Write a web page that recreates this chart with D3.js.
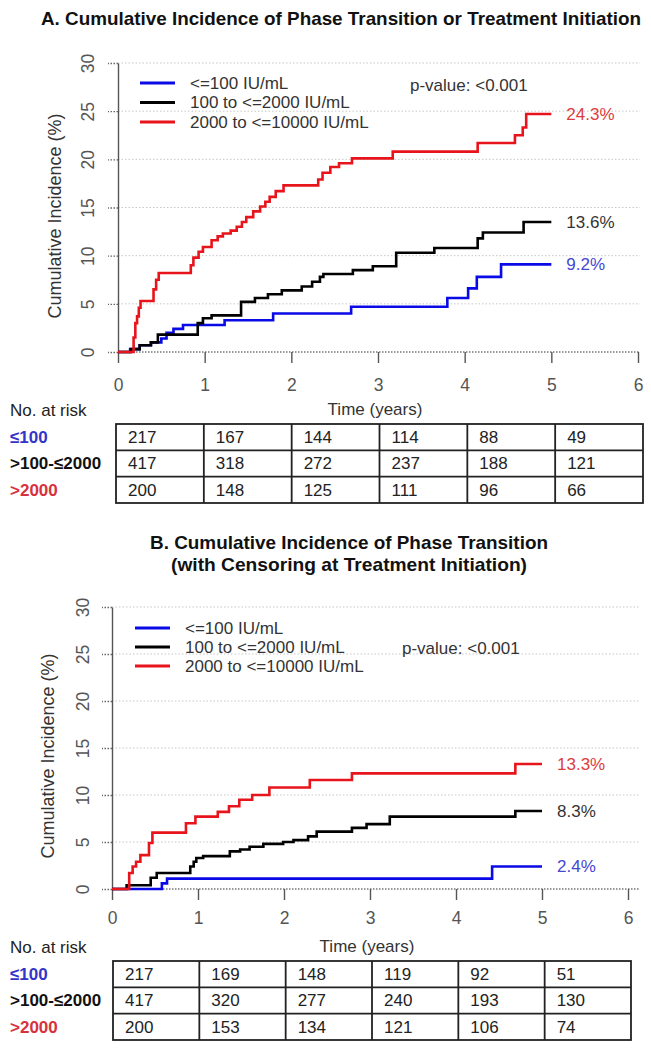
<!DOCTYPE html>
<html><head><meta charset="utf-8">
<script src="https://cdn.jsdelivr.net/npm/d3@7"></script>
<style>body{margin:0;background:#fff}svg{display:block;font-family:"Liberation Sans",Arial,Helvetica,sans-serif}</style>
</head><body><svg id="c" width="651" height="1050"></svg>
<script>
// ---------------- data ----------------
const xTicks = [0, 1, 2, 3, 4, 5, 6];
const yTicks = [0, 5, 10, 15, 20, 25, 30];
const groupLabels = ["<=100 IU/mL", "100 to <=2000 IU/mL", "2000 to <=10000 IU/mL"];
const riskRowLabels = ["≤100", ">100-≤2000", ">2000"];
const riskTimes = [0, 1, 2, 3, 4, 5];
const pValueText = "p-value: <0.001";

// Panel A
const titleA = ["A. Cumulative Incidence of Phase Transition or Treatment Initiation"];
const stepsA_low = [[0,0],[0.14,0.3],[0.25,0.7],[0.38,1.0],[0.50,1.4],[0.56,2.0],[0.64,2.4],[0.75,2.8],[1.23,3.3],[1.79,4.0],[2.69,4.7],[3.80,5.6],[4.04,6.6],[4.14,7.8],[4.42,9.1],[5,9.1]];
const stepsA_mid = [[0,0],[0.15,0.3],[0.25,0.7],[0.38,1.0],[0.46,1.8],[0.92,3.0],[0.98,3.5],[1.08,3.8],[1.42,5.2],[1.58,5.6],[1.73,6.0],[1.89,6.4],[2.12,6.8],[2.24,7.3],[2.33,7.8],[2.37,8.1],[2.71,8.5],[2.94,8.9],[3.21,10.3],[3.65,10.8],[4.15,11.8],[4.21,12.4],[4.68,13.5],[5,13.5]];
const stepsA_high = [[0,0],[0.18,1.5],[0.20,3.0],[0.22,3.7],[0.24,4.6],[0.26,5.3],[0.41,6.5],[0.44,7.5],[0.47,8.2],[0.84,9.0],[0.87,9.8],[0.93,10.4],[0.98,10.9],[1.08,11.6],[1.15,12.0],[1.21,12.3],[1.30,12.6],[1.37,13.0],[1.43,13.5],[1.48,14.0],[1.56,14.6],[1.64,15.1],[1.70,15.6],[1.75,16.1],[1.82,16.7],[1.91,17.3],[2.31,17.9],[2.36,18.6],[2.45,19.2],[2.55,19.6],[2.70,20.1],[3.17,20.8],[4.15,21.7],[4.58,22.5],[4.67,23.3],[4.71,24.7],[5,24.7]];
const endLabelsA = ["9.2%", "13.6%", "24.3%"];
const riskA_low = [217, 167, 144, 114, 88, 49];
const riskA_mid = [417, 318, 272, 237, 188, 121];
const riskA_high = [200, 148, 125, 111, 96, 66];

// Panel B
const titleB = ["B. Cumulative Incidence of Phase Transition", "(with Censoring at Treatment Initiation)"];
const stepsB_low = [[0,0],[0.58,0.6],[0.64,1.1],[4.42,2.4],[5,2.4]];
const stepsB_mid = [[0,0],[0.17,0.4],[0.45,1.2],[0.52,1.7],[0.91,2.4],[0.95,2.9],[0.98,3.3],[1.06,3.5],[1.37,4.0],[1.49,4.2],[1.60,4.5],[1.76,4.8],[1.99,5.0],[2.11,5.2],[2.28,5.6],[2.38,6.1],[2.79,6.5],[2.96,6.9],[3.23,7.7],[4.69,8.3],[5,8.3]];
const stepsB_high = [[0,0],[0.20,1.7],[0.24,2.4],[0.28,2.9],[0.33,3.6],[0.43,4.9],[0.47,6.0],[0.86,7.0],[0.97,7.7],[1.23,8.2],[1.36,8.8],[1.48,9.5],[1.63,10.0],[1.83,10.8],[2.30,11.6],[2.79,12.3],[4.69,13.3],[5,13.3]];
const endLabelsB = ["2.4%", "8.3%", "13.3%"];
const riskB_low = [217, 169, 148, 119, 92, 51];
const riskB_mid = [417, 320, 277, 240, 193, 130];
const riskB_high = [200, 153, 134, 121, 106, 74];

// ---------------- style / layout ----------------
const lineColors = ["#0a0ae6", "#000000", "#e8141c"];
const labelColors = ["#4646d2", "#333333", "#dc3c3c"];
const rowLabelColors = ["#3434c8", "#111111", "#d8303c"];

const svg = d3.select("#c");

function drawPanel(p, series, endLabels, risk, titleLines) {
  const x = d3.scaleLinear().domain([0, 6]).range([p.x0, p.x6]);
  const y = d3.scaleLinear().domain([0, 30]).range([p.y0, p.y30]);
  const g = svg.append("g");

  // title
  titleLines.forEach((t, i) => {
    g.append("text").attr("x", p.titleX).attr("y", p.titleY[i])
      .attr("text-anchor", "middle").attr("font-weight", "bold")
      .attr("font-size", 18.5).attr("fill", "#111")
      .attr("textLength", p.titleLen[i]).attr("lengthAdjust", "spacingAndGlyphs")
      .text(t);
  });

  // grid
  g.selectAll(".grid").data(yTicks.filter(v => v > 0)).join("line")
    .attr("x1", p.x0).attr("x2", p.gridR)
    .attr("y1", d => y(d)).attr("y2", d => y(d))
    .attr("stroke", "#c6c6c6").attr("stroke-width", 1).attr("stroke-dasharray", "1.5,2");
  g.append("line").attr("x1", p.x0).attr("x2", p.gridR).attr("y1", y(0)).attr("y2", y(0))
    .attr("stroke", "#777").attr("stroke-width", 1.3).attr("stroke-dasharray", "1.5,1.5");

  // y axis
  const ya = g.append("g").attr("transform", `translate(${p.x0},0)`)
    .call(d3.axisLeft(y).tickValues(yTicks).tickSize(10).tickSizeOuter(0).tickFormat(d3.format("d")));
  ya.attr("font-family", null).attr("font-size", 17.5);
  ya.select(".domain").attr("stroke", "#555").attr("stroke-width", 1.4);
  ya.selectAll(".tick line").attr("stroke", "#666").attr("stroke-width", 1.3).attr("stroke-dasharray", "1.5,1.5");
  ya.selectAll(".tick text").attr("x", 0).attr("y", -p.yLabOff).attr("dy", "0.35em")
    .attr("transform", "rotate(-90)").attr("text-anchor", "middle").attr("fill", "#555");

  // x axis
  const xa = g.append("g").attr("transform", `translate(0,${p.y0})`)
    .call(d3.axisBottom(x).tickValues(xTicks).tickSize(11).tickPadding(p.xPad).tickSizeOuter(0).tickFormat(d3.format("d")));
  xa.attr("font-family", null).attr("font-size", 17.5);
  xa.select(".domain").remove();
  xa.selectAll(".tick line").attr("stroke", "#555").attr("stroke-width", 1.4);
  xa.selectAll(".tick text").attr("fill", "#555");

  // axis titles
  g.append("text").attr("transform", `translate(${p.yTitleX},${p.yTitleY}) rotate(-90)`)
    .attr("text-anchor", "middle").attr("dy", "0.35em").attr("font-size", 18).attr("fill", "#333")
    .text("Cumulative Incidence (%)");
  g.append("text").attr("x", p.xTitleX).attr("y", p.xTitleY).attr("dy", "0.35em")
    .attr("text-anchor", "middle").attr("font-size", 17).attr("fill", "#333").text("Time (years)");

  // curves
  const line = d3.line().x(d => x(d[0])).y(d => y(d[1])).curve(d3.curveStepAfter);
  series.forEach((s, i) => {
    g.append("path").datum(s).attr("d", line).attr("fill", "none")
      .attr("stroke", lineColors[i]).attr("stroke-width", 2.6);
    const last = s[s.length - 1];
    g.append("text").attr("x", x(last[0]) + 15).attr("y", y(last[1])).attr("dy", "0.35em")
      .attr("font-size", 17).attr("fill", labelColors[i]).text(endLabels[i]);
  });

  // legend
  groupLabels.forEach((t, i) => {
    const ly = p.legY + i * p.legDy;
    g.append("line").attr("x1", p.legX1).attr("x2", p.legX2).attr("y1", ly).attr("y2", ly)
      .attr("stroke", lineColors[i]).attr("stroke-width", 3.2);
    g.append("text").attr("x", p.legTX).attr("y", ly).attr("dy", "0.35em")
      .attr("font-size", 17).attr("fill", "#333").text(t);
  });
  g.append("text").attr("x", p.pX).attr("y", p.pY).attr("dy", "0.35em")
    .attr("font-size", 17).attr("fill", "#333").text(pValueText);

  // risk table
  g.append("text").attr("x", 10).attr("y", p.nearY).attr("dy", "0.35em")
    .attr("font-size", 17).attr("fill", "#222").text("No. at risk");
  const tx = d3.scaleLinear().domain([0, 6]).range([p.tL, p.tR]);
  const ty = d3.scaleLinear().domain([0, 3]).range([p.tT, p.tB]);
  g.append("rect").attr("x", tx(0)).attr("y", ty(0)).attr("width", tx(6) - tx(0)).attr("height", ty(3) - ty(0))
    .attr("fill", "none").attr("stroke", "#222").attr("stroke-width", 1.8);
  g.selectAll(".vcol").data([1, 2, 3, 4, 5]).join("line")
    .attr("x1", d => tx(d)).attr("x2", d => tx(d)).attr("y1", ty(0)).attr("y2", ty(3))
    .attr("stroke", "#222").attr("stroke-width", 1.8);
  g.selectAll(".hrow").data([1, 2]).join("line")
    .attr("x1", tx(0)).attr("x2", tx(6)).attr("y1", d => ty(d)).attr("y2", d => ty(d))
    .attr("stroke", "#222").attr("stroke-width", 1.8);
  risk.forEach((row, r) => {
    const cy = (ty(r) + ty(r + 1)) / 2;
    g.append("text").attr("x", 10).attr("y", cy).attr("dy", "0.35em")
      .attr("font-size", 17).attr("font-weight", "bold").attr("fill", rowLabelColors[r]).text(riskRowLabels[r]);
    riskTimes.forEach((t, c) => {
      g.append("text").attr("x", tx(c) + 12).attr("y", cy).attr("dy", "0.35em")
        .attr("font-size", 17).attr("fill", "#222").text(row[c]);
    });
  });
}

drawPanel({
  x0: 118, x6: 638, y0: 352, y30: 63, gridR: 640, yLabOff: 30, xPad: 16,
  titleX: 341, titleY: [25], titleLen: [600],
  yTitleX: 55, yTitleY: 216, xTitleX: 375, xTitleY: 409,
  legX1: 140, legX2: 175, legTX: 190, legY: 83, legDy: 19.5,
  pX: 410, pY: 85, nearY: 410,
  tL: 116, tR: 643, tT: 424, tB: 503
}, [stepsA_low, stepsA_mid, stepsA_high], endLabelsA, [riskA_low, riskA_mid, riskA_high], titleA);

drawPanel({
  x0: 112, x6: 628, y0: 889, y30: 607, gridR: 640, yLabOff: 29, xPad: 12,
  titleX: 349, titleY: [549, 571], titleLen: [398, 356],
  yTitleX: 48, yTitleY: 756, xTitleX: 367, xTitleY: 946,
  legX1: 135, legX2: 170, legTX: 185, legY: 628, legDy: 19,
  pX: 402, pY: 648, nearY: 947,
  tL: 113, tR: 631, tT: 961, tB: 1040
}, [stepsB_low, stepsB_mid, stepsB_high], endLabelsB, [riskB_low, riskB_mid, riskB_high], titleB);
</script></body></html>
